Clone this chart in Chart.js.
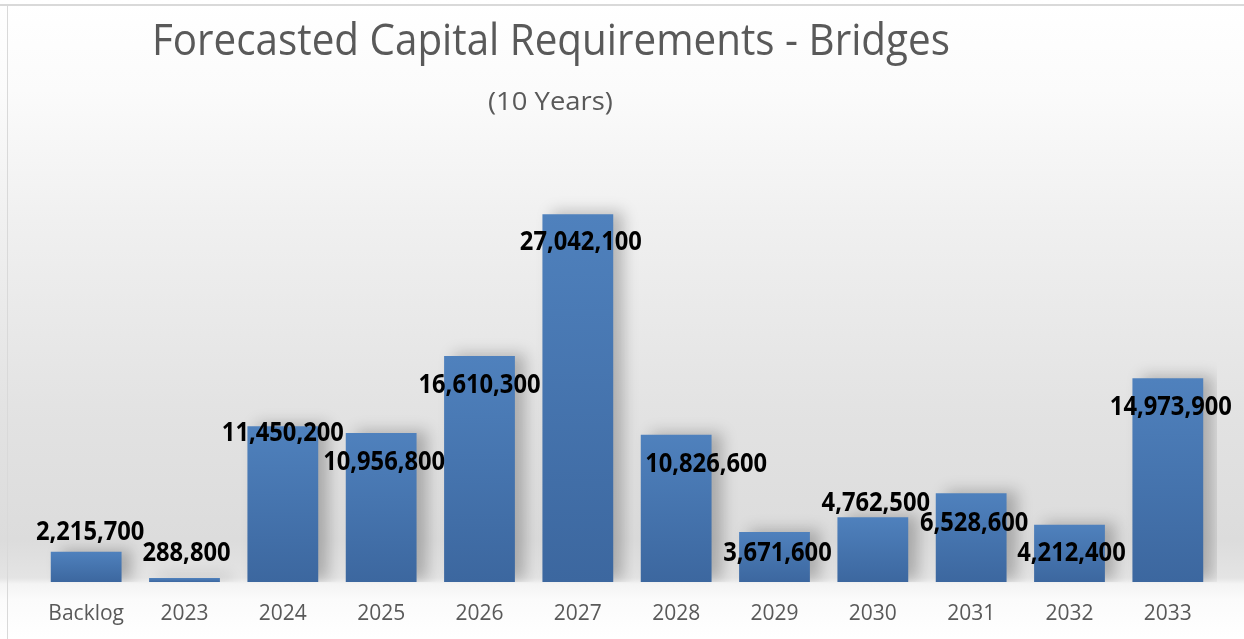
<!DOCTYPE html>
<html>
<head>
<meta charset="utf-8">
<script src="https://cdn.jsdelivr.net/npm/chart.js@4.4.1/dist/chart.umd.min.js"></script>
<style>
  html, body { margin: 0; padding: 0; background: #ffffff; }
  #wrap {
    position: relative; width: 1244px; height: 639px; overflow: hidden;
    background: linear-gradient(to bottom, #ffffff 0px, #fbfbfb 90px, #f0f0f0 220px, #e2e2e2 420px, #dcdcdc 540px, #e4e4e4 578px, #f4f4f4 584px, #fbfbfb 600px, #ffffff 639px);
  }
  #topline { position: absolute; left: 0; top: 4px; width: 1244px; height: 2px; background: #d9d9d9; }
  #leftline { position: absolute; left: 7px; top: 5px; width: 1px; height: 634px; background: #d9d9d9; }
  canvas { position: absolute; left: 0; top: 0; }
  .ttl { position: absolute; white-space: nowrap; color: #595959; font-family: "Open Sans", sans-serif; transform-origin: 0 0; line-height: 1; }
  #title { font-size: 43px; left: 152px; top: 17px; }
  #subtitle { font-size: 25px; left: 488px; top: 88px; }
</style>
</head>
<body>
<div id="wrap">
  <div id="topline"></div>
  <div id="leftline"></div>
  <canvas id="c" width="1244" height="639"></canvas>
  <div class="ttl" id="title">Forecasted Capital Requirements - Bridges</div>
  <div class="ttl" id="subtitle">(10 Years)</div>
</div>
<script>
const categories = ["Backlog", "2023", "2024", "2025", "2026", "2027", "2028", "2029", "2030", "2031", "2032", "2033"];
const requirements = [2215700, 288800, 11450200, 10956800, 16610300, 27042100, 10826600, 3671600, 4762500, 6528600, 4212400, 14973900];

// label offsets relative to the top-centre of each bar (manual Excel label placement)
const labelDx = [4, 2, 0, 3, 0, 3, 30, 3, 3, 3, 2, 3];
const labelDy = [-19, -24, 7, 30, 29, 28, 30, 22, -14, 30, 29, 29];

// squeeze the titles to the reference widths
function fit(id, w) {
  const el = document.getElementById(id);
  el.style.transform = 'scaleX(' + (w / el.offsetWidth) + ')';
}
fit('title', 798);
fit('subtitle', 125);

const fmt = v => v.toLocaleString('en-US');

const labelPlugin = {
  id: 'barLabels',
  afterDatasetsDraw(chart) {
    const ctx = chart.ctx;
    const meta = chart.getDatasetMeta(0);
    const sx = 0.95;
    ctx.save();
    ctx.font = 'bold 26px "Open Sans", sans-serif';
    ctx.fillStyle = '#000000';
    ctx.textAlign = 'center';
    ctx.textBaseline = 'middle';
    meta.data.forEach((bar, i) => {
      ctx.save();
      ctx.translate(bar.x + labelDx[i], bar.y + labelDy[i]);
      ctx.scale(sx * 0.96, 1);
      ctx.fillText(fmt(requirements[i]), 0, 0);
      ctx.restore();
    });
    ctx.restore();
  }
};

// soft floor shadow behind the bars
const shadowPlugin = {
  id: 'barShadow',
  beforeDatasetsDraw(chart) {
    const ctx = chart.ctx;
    ctx.save();
    ctx.shadowColor = 'rgba(0,0,0,0.24)';
    ctx.shadowBlur = 14;
    ctx.shadowOffsetX = 10;
    ctx.shadowOffsetY = -2;
  },
  afterDatasetsDraw(chart) {
    chart.ctx.restore();
  }
};

function barFill(context) {
  const chart = context.chart;
  const { chartArea } = chart;
  if (!chartArea || context.type !== 'data') return '#4a7ab5';
  const ys = chart.scales.y;
  const top = ys.getPixelForValue(context.raw);
  const bottom = ys.getPixelForValue(0);
  if (!isFinite(top) || bottom - top < 1) return '#4a7ab5';
  const g = chart.ctx.createLinearGradient(0, top, 0, bottom);
  g.addColorStop(0, '#4f81bd');
  g.addColorStop(1, '#3c679f');
  return g;
}

new Chart(document.getElementById('c'), {
  type: 'bar',
  data: {
    labels: categories,
    datasets: [{
      data: requirements,
      backgroundColor: barFill,
      borderWidth: 0,
      barPercentage: 0.72,
      categoryPercentage: 1.0
    }]
  },
  options: {
    responsive: false,
    animation: false,
    events: [],
    layout: { padding: { left: 37, right: 27, top: 174, bottom: 0 } },
    plugins: {
      legend: { display: false },
      tooltip: { enabled: false },
      title: { display: false }
    },
    scales: {
      x: {
        grid: { display: false },
        border: { display: false },
        afterFit(scale) { scale.height = 57; },
        ticks: {
          color: '#595959',
          font: { family: '"Open Sans", sans-serif', size: 21 },
          padding: 11,
          maxRotation: 0,
          autoSkip: false
        }
      },
      y: {
        display: false,
        min: 0,
        max: 30000000
      }
    }
  },
  plugins: [shadowPlugin, labelPlugin]
});
</script>
</body>
</html>
